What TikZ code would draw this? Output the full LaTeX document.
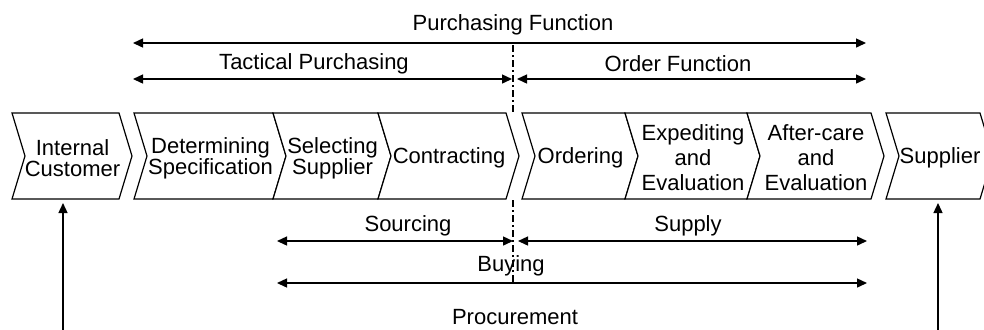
\documentclass[tikz,border=0pt]{standalone}
\usepackage{fontspec}
\setmainfont{Liberation Sans}
\usetikzlibrary{arrows.meta}

\tikzset{
  stage/.style={draw, line width=0.6pt, fill=white},
  stagetext/.style={align=center, inner sep=0pt, font=\fontsize{11}{10.5}\selectfont},
  lbl/.style={inner sep=0pt, font=\fontsize{11}{12}\selectfont},
  span/.style={line width=0.7pt, {Triangle[length=5pt,width=4.5pt]}-{Triangle[length=5pt,width=4.5pt]}},
  rise/.style={line width=0.7pt, -{Triangle[length=5pt,width=4.5pt]}},
  divider/.style={line width=0.6pt, dash pattern=on 3.5pt off 1.5pt on 1pt off 1.5pt},
}

% chevron: left x, right x, name, text
\newcommand{\stagebox}[4]{%
  \draw[stage] (#1,113) -- (#2,113) -- (#2+13,156) -- (#2,199) -- (#1,199) -- (#1+13,156) -- cycle;
  \node[stagetext] (#3) at ({(#1+#2)/2+7},158) {#4};
}

\begin{document}
\begin{tikzpicture}[x=0.5pt, y=-0.5pt]
  \path[use as bounding box] (0,0) rectangle (984,329);
  \clip (0,0) rectangle (984,329);

  % process chain
  \stagebox{12}{119}{customer}{Internal\\Customer}
  \stagebox{134}{273}{spec}{Determining\\Specification}
  \stagebox{273}{378}{select}{Selecting\\Supplier}
  \stagebox{378}{506}{contract}{Contracting}
  \stagebox{522}{625}{order}{Ordering}
  \stagebox{625}{747}{expedite}{Expediting\\[2pt]and\\[2pt]Evaluation}
  \stagebox{747}{871}{aftercare}{After-care\\[2pt]and\\[2pt]Evaluation}
  \stagebox{886}{980}{supplier}{Supplier}

  % split between tactical and order side
  \coordinate (div-a) at (513,45);
  \coordinate (div-b) at (513,112);
  \coordinate (div-c) at (513,200);
  \coordinate (div-d) at (513,283);
  \draw[divider] (div-a) -- (div-b);
  \draw[divider] (div-c) -- (div-d);

  % spans above
  \coordinate (pf-l) at (133,43);  \coordinate (pf-r) at (866,43);
  \coordinate (tp-l) at (133,79);  \coordinate (tp-r) at (512,79);
  \coordinate (of-l) at (517,79);  \coordinate (of-r) at (866,79);
  \draw[span] (pf-l) -- (pf-r);
  \draw[span] (tp-l) -- (tp-r);
  \draw[span] (of-l) -- (of-r);
  \node[lbl] (pf) at (513,25) {Purchasing Function};
  \node[lbl] (tp) at (314,64) {Tactical Purchasing};
  \node[lbl] (of) at (678,64) {Order Function};

  % spans below
  \coordinate (so-l) at (277,241); \coordinate (so-r) at (513,241);
  \coordinate (su-l) at (518,241); \coordinate (su-r) at (867,241);
  \coordinate (bu-l) at (277,283); \coordinate (bu-r) at (867,283);
  \draw[span] (so-l) -- (so-r);
  \draw[span] (su-l) -- (su-r);
  \draw[span] (bu-l) -- (bu-r);
  \node[lbl] (so) at (408,226) {Sourcing};
  \node[lbl] (su) at (688,226) {Supply};
  \node[lbl] (bu) at (511,266) {Buying};
  \node[lbl] (pr) at (515,317) {Procurement};

  % arrows into both ends of the chain
  \coordinate (cu-foot) at (63,345);  \coordinate (cu-top) at (63,203);
  \coordinate (sp-foot) at (938,345); \coordinate (sp-top) at (938,203);
  \draw[rise] (cu-foot) -- (cu-top);
  \draw[rise] (sp-foot) -- (sp-top);
\end{tikzpicture}
\end{document}
